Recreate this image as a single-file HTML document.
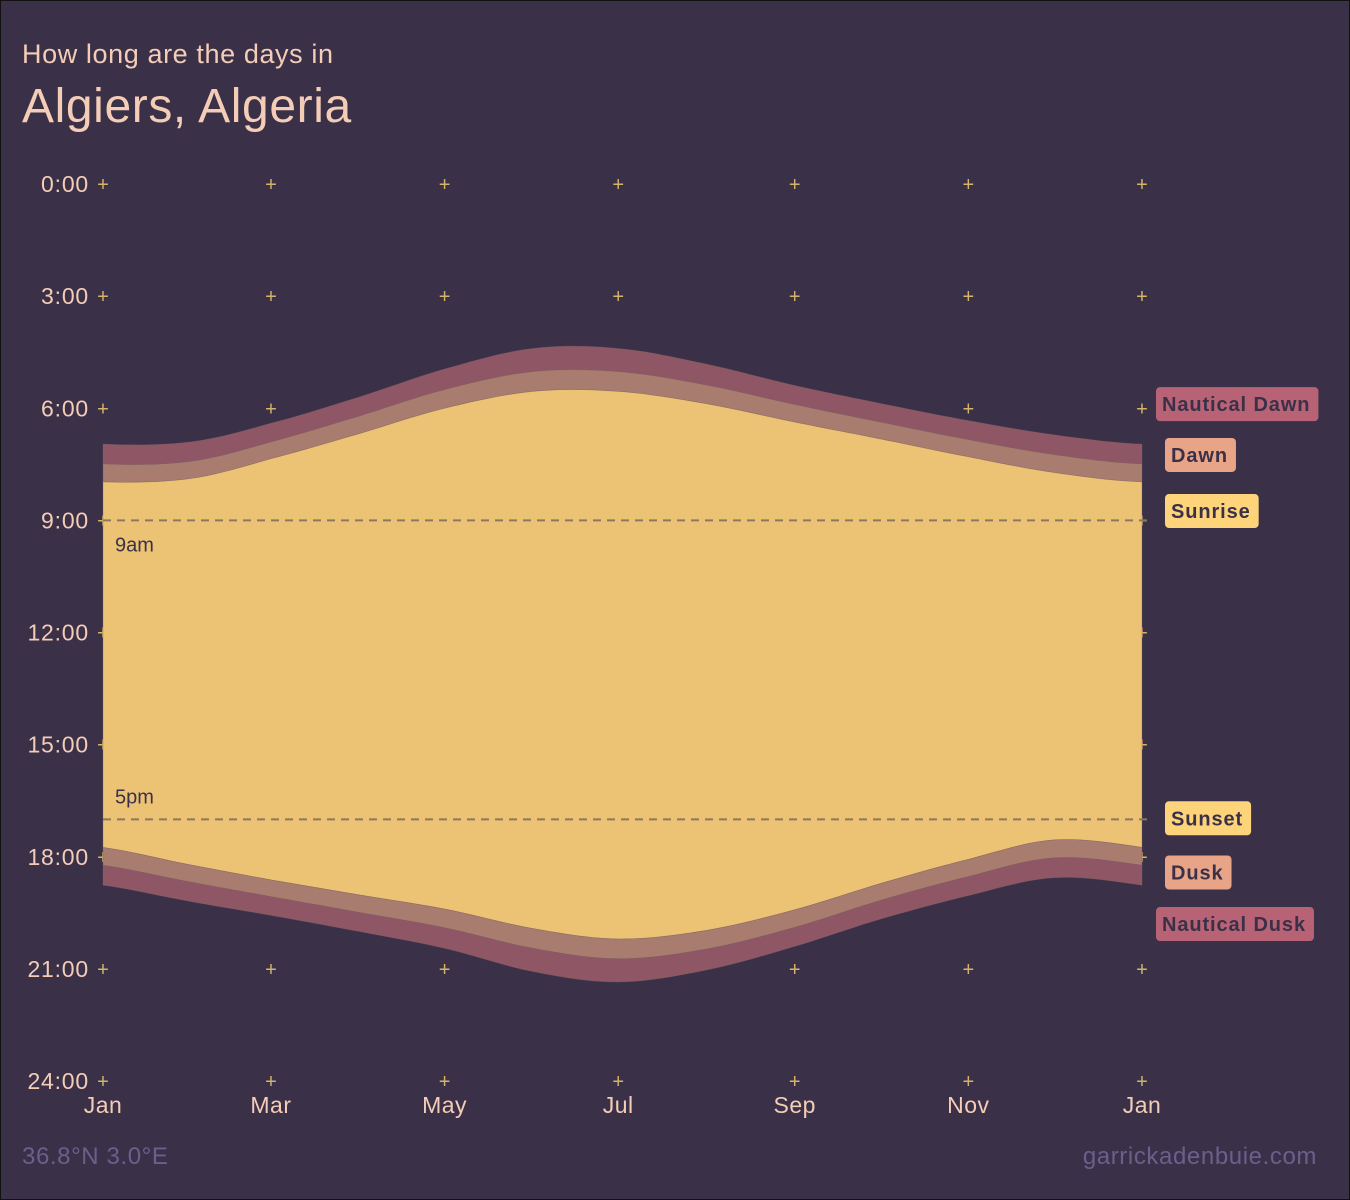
<!DOCTYPE html>
<html><head><meta charset="utf-8">
<style>
html,body{margin:0;padding:0;background:#3a3149;}
#wrap{position:relative;width:1348px;height:1198px;border:1px solid #111;background:#3a3149;overflow:hidden;font-family:"Liberation Sans",sans-serif;}
svg{position:absolute;left:0;top:0;}
</style></head>
<body>
<div id="wrap">
<svg id="chart" width="1350" height="1200">
<text x="21" y="62" font-size="27" letter-spacing="0.6" fill="#f5cdb6">How long are the days in</text>
<text x="21" y="121" font-size="48" letter-spacing="0.6" fill="#f5cdb6">Algiers, Algeria</text>
<text x="21" y="1163" font-size="24" letter-spacing="0.6" fill="#6c5f8c">36.8°N 3.0°E</text>
<text x="1316" y="1163" font-size="24" letter-spacing="0.6" fill="#6c5f8c" text-anchor="end">garrickadenbuie.com</text>
<g id="grid"></g>
<g id="areas"></g>
<g id="refs"></g>
<g id="axes"></g>
<g id="labels"></g>
</svg>
</div>
<script>
const days = [0,31,59,90,120,151,181,212,243,273,304,334,365];
const nauticalDawn = [6.96,6.90,6.40,5.70,4.95,4.40,4.40,4.82,5.39,5.87,6.33,6.71,6.96];
const dawn = [7.49,7.42,6.90,6.21,5.50,5.02,5.02,5.38,5.90,6.37,6.84,7.24,7.49];
const sunrise = [7.97,7.88,7.35,6.68,6.00,5.55,5.55,5.88,6.37,6.82,7.30,7.72,7.97];
const sunset = [17.75,18.22,18.62,19.02,19.40,19.92,20.20,19.97,19.42,18.72,18.07,17.55,17.75];
const dusk = [18.23,18.68,19.07,19.49,19.90,20.45,20.73,20.47,19.89,19.17,18.53,18.03,18.23];
const nauticalDusk = [18.76,19.20,19.57,20.00,20.45,21.07,21.35,21.03,20.40,19.67,19.04,18.56,18.76];
const xTickDays = [0,59,120,181,243,304,365];
const xTickLabels = ["Jan","Mar","May","Jul","Sep","Nov","Jan"];
const yTicks = [0,3,6,9,12,15,18,21,24];
const yTickLabels = ["0:00","3:00","6:00","9:00","12:00","15:00","18:00","21:00","24:00"];
const refHours = [9,17];
const refLabels = ["9am","5pm"];

const NS="http://www.w3.org/2000/svg";
const X0=102,X1=1141,Y0=183,Y1=1080;
const x=d=>X0+(d/365)*(X1-X0);
const y=h=>Y0+(h/24)*(Y1-Y0);
function mk(t,a,p){const e=document.createElementNS(NS,t);for(const k in a)e.setAttribute(k,a[k]);p.appendChild(e);return e;}

function curve(vals){
  const pts=[];
  const n=days.length;
  for(let i=0;i<n-1;i++){
    const p0=i===0?vals[n-2]:vals[i-1];
    const p1=vals[i],p2=vals[i+1];
    const p3=i+2>n-1?vals[1]:vals[i+2];
    const d1=days[i],d2=days[i+1];
    for(let s=0;s<10;s++){
      const t=s/10;
      const v=0.5*((2*p1)+(-p0+p2)*t+(2*p0-5*p1+4*p2-p3)*t*t+(-p0+3*p1-3*p2+p3)*t*t*t);
      pts.push([x(d1+(d2-d1)*t),y(v)]);
    }
  }
  pts.push([x(days[n-1]),y(vals[n-1])]);
  return pts;
}
function band(a,b){
  const top=curve(a),bot=curve(b).reverse();
  return "M"+top.concat(bot).map(p=>p[0].toFixed(1)+","+p[1].toFixed(1)).join("L")+"Z";
}

const grid=document.getElementById('grid');
xTickDays.forEach(d=>{yTicks.forEach(h=>{
  const t=mk('text',{x:x(d),y:y(h)+7,'font-size':20,fill:'#d4b36a','text-anchor':'middle'},grid);
  t.textContent='+';
  
  
});});

const areas=document.getElementById('areas');
const bands=[
  [nauticalDawn,dawn,'#8f5766','nautical-dawn-band'],
  [dawn,sunrise,'#a87c6e','dawn-band'],
  [sunrise,sunset,'#ecc375','daylight-band'],
  [sunset,dusk,'#a87c6e','dusk-band'],
  [dusk,nauticalDusk,'#8f5766','nautical-dusk-band']
];
bands.forEach(b=>{
  const p=mk('path',{d:band(b[0],b[1]),fill:b[2],stroke:'#7d6060','stroke-width':0.6,'stroke-opacity':0.5},areas);
  
  
});

const refs=document.getElementById('refs');
refHours.forEach((h,i)=>{
  const l=mk('line',{x1:X0,x2:X1+8,y1:y(h),y2:y(h),stroke:'#8a7860','stroke-width':2,'stroke-dasharray':'8,6'},refs);
  
  
  const t=mk('text',{x:114,y:i===0?y(h)+31:y(h)-16,'font-size':20,fill:'#3a3149'},refs);
  t.textContent=refLabels[i];
  
  
});

const axes=document.getElementById('axes');
yTicks.forEach((h,i)=>{
  const t=mk('text',{x:88,y:y(h)+8,'font-size':23,'letter-spacing':0.8,fill:'#f5cdb6','text-anchor':'end'},axes);
  t.textContent=yTickLabels[i];
  
  
});
xTickDays.forEach((d,i)=>{
  const t=mk('text',{x:x(d),y:1112,'font-size':23,'letter-spacing':0.5,fill:'#f5cdb6','text-anchor':'middle'},axes);
  t.textContent=xTickLabels[i];
  
  
});

const labels=document.getElementById('labels');
const legendNames=["Nautical Dawn","Dawn","Sunrise","Sunset","Dusk","Nautical Dusk"];
const legendSeries=[nauticalDawn,dawn,sunrise,sunset,dusk,nauticalDusk];
const legendColors=['#b86275','#e8a486','#fdd47a','#fdd47a','#e8a486','#b86275'];
const legendOffsets=[-1.07,-0.24,0.78,-0.78,0.19,1.04];
legendNames.forEach((n,i)=>{
  const vals=legendSeries[i];
  const cy=y(vals[vals.length-1]+legendOffsets[i]);
  const bx=(i===0||i===5)?1155:1164;
  const r=mk('rect',{x:bx,y:cy-17,width:50,height:34,rx:4,fill:legendColors[i]},labels);
  
  
  const t=mk('text',{x:bx+6,y:cy+7,'font-size':20,'font-weight':'bold','letter-spacing':0.9,fill:'#3a3149'},labels);
  t.textContent=n;
  
  
  r.setAttribute('width',t.getComputedTextLength()+14);
});
</script>
</body></html>
